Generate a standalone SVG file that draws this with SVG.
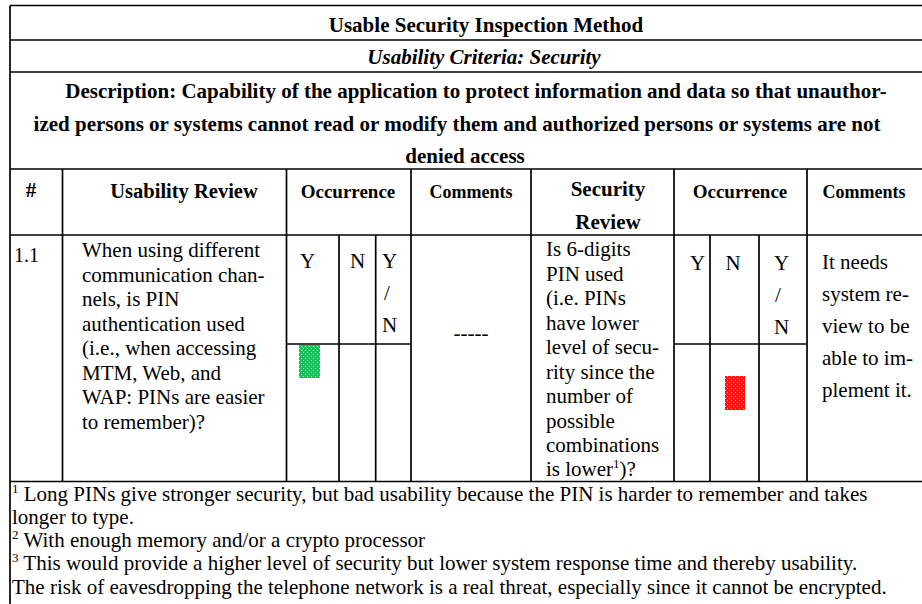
<svg xmlns="http://www.w3.org/2000/svg" width="922" height="604" viewBox="0 0 922 604">
<style>
text{font-family:"Liberation Serif","Times New Roman",serif;fill:#000;}
.b{font-weight:bold;}
.bi{font-weight:bold;font-style:italic;}
.t21{font-size:21px;}
.t20{font-size:20px;}
.body{font-size:21px;}
.fn{font-size:21px;}
.sup{font-size:13px;}
.m{text-anchor:middle;}
.ln{stroke:#000;stroke-width:1.7;fill:none;}
</style>
<defs>
<pattern id="pg" width="4" height="4" patternUnits="userSpaceOnUse">
<rect width="4" height="4" fill="#1cbf5c"/>
<rect x="1" y="2" width="1" height="1" fill="#b8f0cc"/>
<rect x="3" y="0" width="1" height="1" fill="#b8f0cc"/>
</pattern>
<pattern id="pr" width="4" height="4" patternUnits="userSpaceOnUse">
<rect width="4" height="4" fill="#ff1414"/>
<rect x="1" y="2" width="1" height="1" fill="#ffc0c0"/>
<rect x="3" y="0" width="1" height="1" fill="#ffc0c0"/>
</pattern>
</defs>

<g id="grid" class="ln">
<line x1="10" y1="5.5" x2="922" y2="5.5"/>
<line x1="10" y1="5.5" x2="10" y2="604"/>
<line x1="10" y1="40" x2="922" y2="40"/>
<line x1="10" y1="72" x2="922" y2="72"/>
<line x1="10" y1="169" x2="922" y2="169"/>
<line x1="10" y1="235" x2="922" y2="235"/>
<line x1="10" y1="481.5" x2="922" y2="481.5"/>
<line x1="62.5" y1="169" x2="62.5" y2="481.5"/>
<line x1="286.5" y1="169" x2="286.5" y2="481.5"/>
<line x1="411" y1="169" x2="411" y2="481.5"/>
<line x1="531" y1="169" x2="531" y2="481.5"/>
<line x1="674" y1="169" x2="674" y2="481.5"/>
<line x1="807" y1="169" x2="807" y2="481.5"/>
<line x1="339" y1="235" x2="339" y2="481.5"/>
<line x1="375.7" y1="235" x2="375.7" y2="481.5"/>
<line x1="710" y1="235" x2="710" y2="481.5"/>
<line x1="759" y1="235" x2="759" y2="481.5"/>
<line x1="286.5" y1="344" x2="411" y2="344"/>
<line x1="674" y1="344" x2="807" y2="344"/>
</g>

<g id="title">
<text class="b t21 m" x="486" y="32">Usable Security Inspection Method</text>
</g>
<g id="criteria">
<text class="bi t21 m" x="484" y="64">Usability Criteria: Security</text>
</g>
<g id="description">
<text class="b t21 m" x="476" y="98">Description: Capability of the application to protect information and data so that unauthor-</text>
<text class="b t21 m" x="457" y="131">ized persons or systems cannot read or modify them and authorized persons or systems are not</text>
<text class="b t21 m" x="465" y="163">denied access</text>
</g>

<g id="header">
<text class="b t21 m" x="31" y="197">#</text>
<text class="b m" style="font-size:20.5px" x="184" y="198">Usability Review</text>
<text class="b m" style="font-size:19px" x="348" y="198">Occurrence</text>
<text class="b m" style="font-size:18px" x="471" y="198">Comments</text>
<text class="b t21 m" x="608" y="196">Security</text>
<text class="b t21 m" x="608" y="229">Review</text>
<text class="b m" style="font-size:19px" x="740" y="198">Occurrence</text>
<text class="b m" style="font-size:18px" x="864" y="198">Comments</text>
</g>

<g id="row-1-1">
<text class="t20" x="14" y="262">1.1</text>
<text class="body" x="82">
<tspan x="82" y="257">When using different</tspan>
<tspan x="82" y="281.5">communication chan-</tspan>
<tspan x="82" y="306">nels, is PIN</tspan>
<tspan x="82" y="330.5">authentication used</tspan>
<tspan x="82" y="355">(i.e., when accessing</tspan>
<tspan x="82" y="379.5">MTM, Web, and</tspan>
<tspan x="82" y="404">WAP: PINs are easier</tspan>
<tspan x="82" y="428.5">to remember)?</tspan>
</text>
<text class="body m" x="307.5" y="268">Y</text>
<text class="body m" x="357.5" y="268">N</text>
<text class="body m" x="389.5" y="268">Y</text>
<text class="body m" x="387" y="300">/</text>
<text class="body m" x="389.5" y="332">N</text>
<rect id="mark-green" x="299" y="345" width="21" height="33" fill="url(#pg)"/>
<text class="body m" x="471" y="340">-----</text>
<text class="body" x="546">
<tspan x="546" y="256">Is 6-digits</tspan>
<tspan x="546" y="280.5">PIN used</tspan>
<tspan x="546" y="305">(i.e. PINs</tspan>
<tspan x="546" y="329.5">have lower</tspan>
<tspan x="546" y="354">level of secu-</tspan>
<tspan x="546" y="378.5">rity since the</tspan>
<tspan x="546" y="403">number of</tspan>
<tspan x="546" y="427.5">possible</tspan>
<tspan x="546" y="452">combinations</tspan>
<tspan x="546" y="476">is lower</tspan><tspan class="sup" dy="-8">1</tspan><tspan dy="8">)?</tspan>
</text>
<text class="body m" x="697.5" y="270">Y</text>
<text class="body m" x="733" y="270">N</text>
<text class="body m" x="781.5" y="270">Y</text>
<text class="body m" x="778" y="302">/</text>
<text class="body m" x="781.5" y="334">N</text>
<rect id="mark-red" x="725" y="376" width="20" height="34" fill="url(#pr)"/>
<text class="body" x="822">
<tspan x="822" y="269">It needs</tspan>
<tspan x="822" y="301">system re-</tspan>
<tspan x="822" y="333">view to be</tspan>
<tspan x="822" y="365">able to im-</tspan>
<tspan x="822" y="397">plement it.</tspan>
</text>
</g>

<g id="footnotes">
<text class="fn" x="12" y="500.5"><tspan class="sup" x="12" y="492.5">1</tspan><tspan y="500.5"> Long PINs give stronger security, but bad usability because the PIN is harder to remember and takes</tspan><tspan x="12" y="523.8">longer to type.</tspan><tspan class="sup" x="12" y="539.1">2</tspan><tspan y="547.1" dx="5">With enough memory and/or a crypto processor</tspan><tspan class="sup" x="12" y="562.4">3</tspan><tspan y="570.4"> This would provide a higher level of security but lower system response time and thereby usability.</tspan><tspan x="12" y="593.7">The risk of eavesdropping the telephone network is a real threat, especially since it cannot be encrypted.</tspan></text>
</g>
</svg>
